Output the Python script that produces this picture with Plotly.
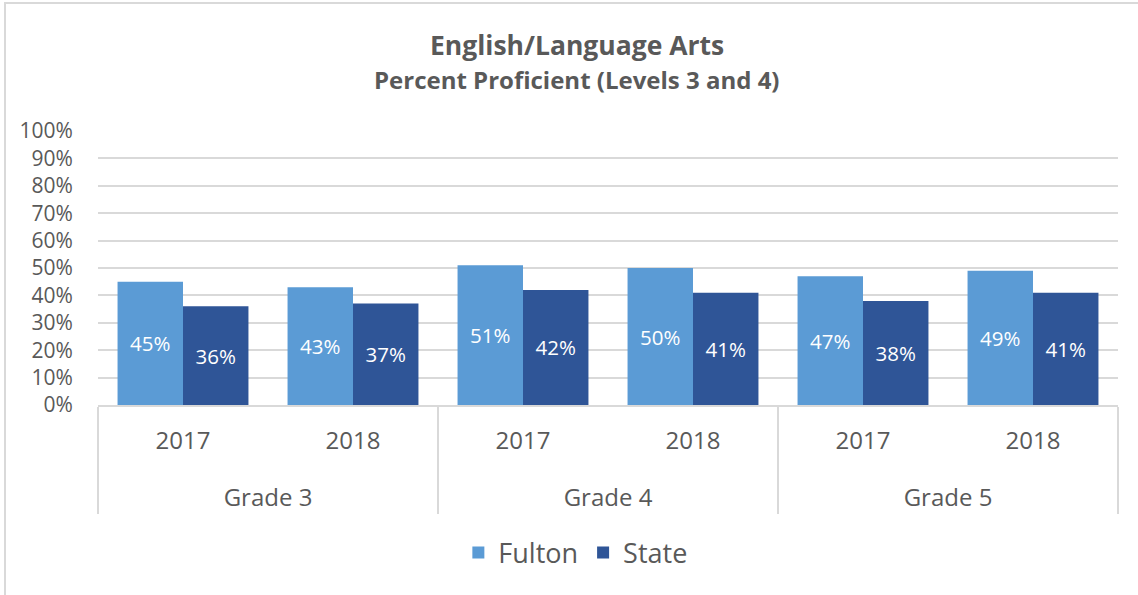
import plotly.graph_objects as go

grades = ["Grade 3", "Grade 3", "Grade 4", "Grade 4", "Grade 5", "Grade 5"]
years = ["2017", "2018", "2017", "2018", "2017", "2018"]
fulton = [45, 43, 51, 50, 47, 49]
state = [36, 37, 42, 41, 38, 41]
yticks = [0, 10, 20, 30, 40, 50, 60, 70, 80, 90, 100]

FONT = "Open Sans"
GRAY = "#595959"
GRID = "#D9D9D9"

LBL = "<span style='font-size:24px'>{}</span>"
# leading blank lines push the category labels down, as in the reference
grade_labels = ["<br><br>" + LBL.format(g) for g in grades]
year_labels = ["<br>" + LBL.format(y) for y in years]

fig = go.Figure()
for name, vals, color in [("Fulton", fulton, "#5B9BD5"), ("State", state, "#2F5597")]:
    fig.add_trace(go.Bar(
        name=name, x=[grade_labels, year_labels], y=vals,
        marker=dict(color=color, line=dict(width=0)),
        text=[f"{v}%" for v in vals], textposition="inside",
        insidetextanchor="middle", textangle=0,
        textfont=dict(color="white", size=20.5, family=FONT),
        hoverinfo="skip",
    ))

fig.update_layout(
    width=1138, height=595,
    margin=dict(l=98, r=20, t=131, b=190),
    paper_bgcolor="white", plot_bgcolor="white",
    barmode="group", bargap=0.23, bargroupgap=0,
    font=dict(family=FONT, color=GRAY),
    showlegend=True,
    legend=dict(orientation="h", x=0.468, xanchor="center", y=-0.54, yanchor="middle",
                font=dict(size=27, color=GRAY, family=FONT),
                traceorder="normal"),
    annotations=[
        dict(text="<b>English/Language Arts</b>", xref="paper", yref="paper",
             x=0.4696, y=(405 - 45) / 274, xanchor="center", yanchor="middle",
             showarrow=False, font=dict(size=26.5, color=GRAY, family=FONT)),
        dict(text="<b>Percent Proficient (Levels 3 and 4)</b>", xref="paper", yref="paper",
             x=0.4696, y=(405 - 80) / 274, xanchor="center", yanchor="middle",
             showarrow=False, font=dict(size=24, color=GRAY, family=FONT)),
    ],
    shapes=[
        dict(type="rect", xref="paper", yref="paper",
             x0=(5 - 98) / 1020, x1=(1145 - 98) / 1020,
             y0=(405 - 600) / 274, y1=(405 - 3) / 274,
             line=dict(color="#D9D9D9", width=2), layer="below"),
    ],
)
fig.update_yaxes(range=[0, 100], tickvals=yticks, ticktext=[f"{v}%" for v in yticks],
                 showgrid=True, gridcolor=GRID, gridwidth=1.5, zeroline=False,
                 tickfont=dict(size=21, color=GRAY, family=FONT),
                 ticks="outside", ticklen=20, tickcolor="rgba(0,0,0,0)",
                 showline=False, fixedrange=True)
fig.update_xaxes(type="multicategory", showline=True, linecolor=GRID, linewidth=1.5,
                 showdividers=True, dividercolor=GRID, dividerwidth=1.5,
                 tickfont=dict(size=17, color=GRAY, family=FONT),
                 ticks="", showgrid=False, fixedrange=True)

fig.write_html("out.html", config={"displayModeBar": False},
               post_script="document.body.style.margin='0';")
